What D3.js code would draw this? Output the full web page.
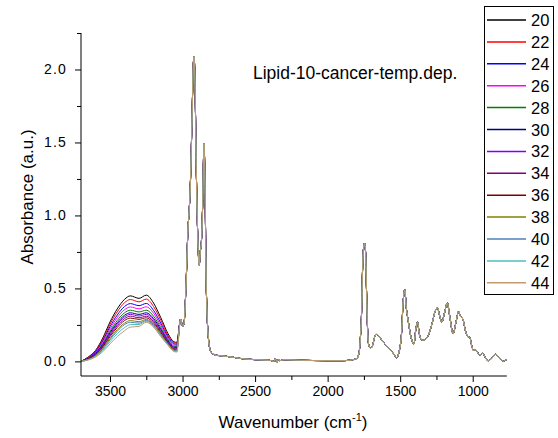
<!DOCTYPE html>
<html><head><meta charset="utf-8">
<script src="https://cdn.jsdelivr.net/npm/d3@7"></script>
<style>body{margin:0;background:#fff;} svg{display:block;font-family:Arial,"Liberation Sans",sans-serif;}</style>
</head><body>
<svg id="chart" width="558" height="438"></svg>
<script>
// ---- data ----
const temps = ["20","22","24","26","28","30","32","34","36","38","40","42","44"];
const colors = ["#000000","#FF0000","#0000FF","#FF00FF","#008000","#000080","#8000FF","#800080","#800000","#808000","#4F81BD","#4DBEBE","#C49A6C"];
// OH stretching band (per series)
const ohWn = [3700,3650,3600,3550,3500,3450,3400,3360,3300,3250,3200,3150,3100,3060,3040];
const oh20 = [0.000,0.030,0.075,0.160,0.270,0.360,0.425,0.449,0.432,0.454,0.400,0.300,0.190,0.135,0.130];
const oh22 = [0.000,0.028,0.070,0.150,0.255,0.340,0.402,0.424,0.408,0.427,0.376,0.282,0.178,0.128,0.124];
const oh24 = [0.000,0.026,0.065,0.140,0.238,0.318,0.376,0.396,0.382,0.397,0.350,0.262,0.167,0.120,0.117];
const oh26 = [0.000,0.024,0.061,0.131,0.223,0.300,0.354,0.373,0.360,0.374,0.330,0.247,0.158,0.112,0.110];
const oh28 = [0.000,0.022,0.057,0.122,0.208,0.281,0.333,0.351,0.339,0.351,0.310,0.232,0.148,0.104,0.102];
const oh30 = [0.000,0.020,0.054,0.115,0.197,0.266,0.316,0.333,0.322,0.333,0.294,0.220,0.140,0.097,0.095];
const oh32 = [0.000,0.019,0.051,0.110,0.189,0.256,0.305,0.322,0.311,0.322,0.284,0.212,0.135,0.093,0.090];
const oh34 = [0.000,0.018,0.048,0.104,0.180,0.245,0.293,0.310,0.299,0.310,0.273,0.204,0.130,0.088,0.085];
const oh36 = [0.000,0.016,0.045,0.098,0.170,0.233,0.280,0.297,0.288,0.299,0.263,0.197,0.125,0.083,0.080];
const oh38 = [0.000,0.014,0.041,0.090,0.157,0.218,0.262,0.280,0.272,0.288,0.253,0.188,0.120,0.078,0.074];
const oh40 = [0.000,0.013,0.038,0.084,0.148,0.207,0.252,0.268,0.262,0.281,0.246,0.182,0.116,0.074,0.070];
const oh42 = [0.000,0.011,0.034,0.075,0.135,0.190,0.232,0.252,0.253,0.275,0.240,0.176,0.113,0.071,0.067];
const oh44 = [0.000,0.010,0.030,0.066,0.120,0.170,0.210,0.235,0.240,0.268,0.235,0.170,0.110,0.068,0.064];
const ohSeries = [oh20,oh22,oh24,oh26,oh28,oh30,oh32,oh34,oh36,oh38,oh40,oh42,oh44];
// rest of the spectrum (shared by all series)
const baseWn = [3013,3000,2990,2975,2962,2955,2945,2935,2925,2920,2915,2905,2895,2885,2878,2870,2862,2852,2845,2838,2830,2820,2810,2800,2780,2750,2700,2650,2600,2500,2400,2370,2360,2350,2340,2330,2300,2200,2100,2000,1900,1850,1800,1785,1775,1765,1760,1752,1745,1738,1732,1726,1718,1705,1690,1675,1660,1645,1627,1593,1547,1525,1505,1490,1480,1468,1458,1445,1420,1405,1392,1380,1370,1355,1340,1310,1280,1260,1242,1230,1212,1195,1175,1160,1135,1115,1098,1085,1068,1050,1035,1020,1005,995,982,965,950,930,915,895,870,850,840,825,810,790,775,766];
const baseVal = [0.29,0.24,0.26,0.55,0.92,1.02,1.25,1.65,2.05,2.09,1.95,1.30,0.85,0.66,0.75,0.82,1.05,1.49,1.20,0.60,0.30,0.14,0.08,0.06,0.045,0.04,0.035,0.028,0.02,0.012,0.008,0.0,0.02,-0.01,0.015,0.005,0.012,0.008,0.006,0.005,0.005,0.008,0.02,0.05,0.15,0.37,0.60,0.78,0.81,0.74,0.49,0.26,0.12,0.09,0.11,0.17,0.185,0.17,0.146,0.105,0.055,0.025,0.077,0.20,0.40,0.49,0.37,0.28,0.146,0.12,0.22,0.27,0.20,0.15,0.146,0.17,0.26,0.34,0.367,0.32,0.27,0.33,0.40,0.32,0.19,0.27,0.34,0.31,0.29,0.21,0.17,0.165,0.10,0.075,0.08,0.06,0.043,0.055,0.03,0.005,0.02,0.045,0.05,0.03,0.02,0.0,0.008,0.012];
const xTicks = [3500,3000,2500,2000,1500,1000];
const xMinor = [3250,2750,2250,1750,1250,750];
const yTicks = [0,0.5,1.0,1.5,2.0];
const yMinor = [0.25,0.75,1.25,1.75,2.25];

// ---- chart ----
const svg = d3.select("#chart");
const x = d3.scaleLinear().domain([3700,765]).range([81,506.8]);
const y = d3.scaleLinear().domain([-0.1,2.25]).range([376,33]);

const series = temps.map((t,i)=>({t, color:colors[i],
  pts: ohWn.map((w,j)=>[w,ohSeries[i][j]]).concat(baseWn.map((w,j)=>[w,baseVal[j]]))}));

const line = d3.line().x(d=>x(d[0])).y(d=>y(d[1])).curve(d3.curveMonotoneX);
svg.append("g").selectAll("path").data(series).join("path")
  .attr("d",d=>line(d.pts)).attr("fill","none").attr("stroke",d=>d.color).attr("stroke-width",1);

// axes
const gx = svg.append("g").attr("transform","translate(0,376)");
gx.call(d3.axisBottom(x).tickValues(xTicks).tickSize(6).tickPadding(4).tickFormat(d3.format("d")));
gx.append("g").call(d3.axisBottom(x).tickValues(xMinor.filter(v=>v<=3700&&v>=765)).tickSize(4).tickFormat(""));
gx.selectAll(".domain").attr("stroke","#000");
gx.selectAll("text").attr("font-size","14px").attr("fill","#000").attr("font-family","Arial,'Liberation Sans',sans-serif");
gx.selectAll("g .domain").filter((d,i)=>i>0).remove();

const gy = svg.append("g").attr("transform","translate(81,0)");
gy.call(d3.axisLeft(y).tickValues(yTicks).tickSize(6).tickPadding(8).tickFormat(d3.format(".1f")));
gy.append("g").call(d3.axisLeft(y).tickValues(yMinor).tickSize(4).tickFormat(""));
gy.selectAll("text").attr("font-size","14px").attr("fill","#000").attr("letter-spacing","1.2px").attr("font-family","Arial,'Liberation Sans',sans-serif");
gx.selectAll("line").attr("stroke","#000");
gy.selectAll("line").attr("stroke","#000");
// domain lines: draw explicitly to exact extent
svg.selectAll(".domain").remove();
svg.append("line").attr("x1",81).attr("x2",506.8).attr("y1",376).attr("y2",376).attr("stroke","#000");
svg.append("line").attr("x1",81).attr("x2",81).attr("y1",33).attr("y2",376).attr("stroke","#000");

// axis titles
const xt = svg.append("text").attr("x",293).attr("y",428).attr("text-anchor","middle").attr("font-size","17px");
xt.append("tspan").text("Wavenumber (cm");
xt.append("tspan").attr("font-size","11px").attr("dy","-7").text("-1");
xt.append("tspan").attr("dy","7").text(")");
svg.append("text").attr("transform","translate(32.5,197) rotate(-90)").attr("text-anchor","middle")
  .attr("font-size","17px").text("Absorbance (a.u.)");

// annotation
svg.append("text").attr("x",253).attr("y",79.3).attr("font-size","17.5px").text("Lipid-10-cancer-temp.dep.");

// legend
const lg = svg.append("g");
lg.append("rect").attr("x",484.5).attr("y",6.5).attr("width",69).attr("height",288).attr("fill","#fff").attr("stroke","#000").attr("stroke-width",1);
const items = lg.selectAll("g.item").data(series).join("g").attr("class","item")
  .attr("transform",(d,i)=>`translate(0,${20+i*21.9})`);
items.append("line").attr("x1",487).attr("x2",526).attr("stroke",d=>d.color).attr("stroke-width",1.5);
items.append("text").attr("x",531).attr("y",6).attr("font-size","16.5px").text(d=>d.t);
</script>
</body></html>
